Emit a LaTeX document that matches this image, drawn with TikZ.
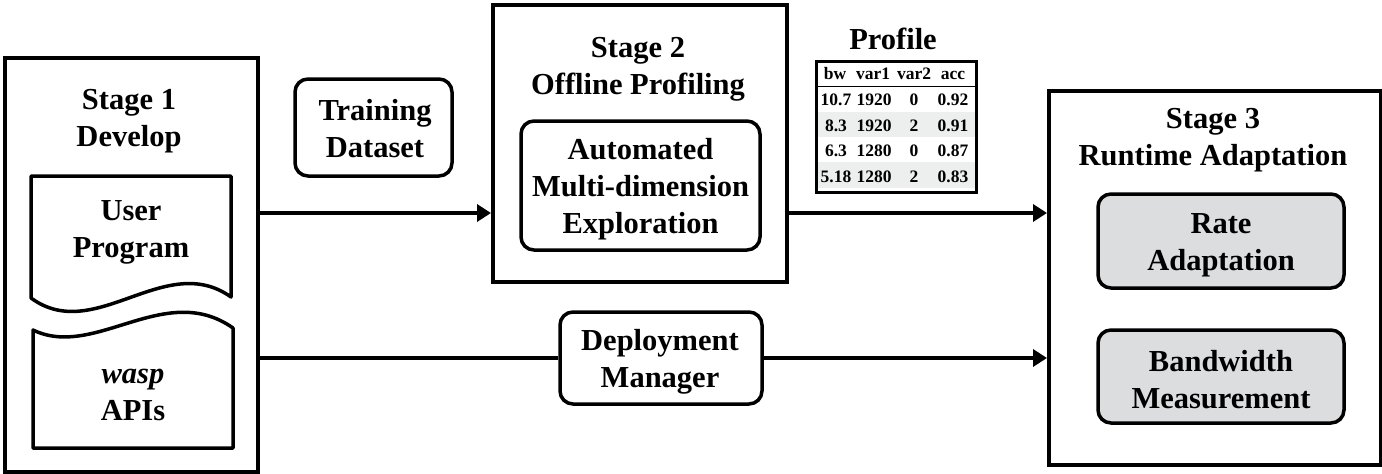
\documentclass[tikz,border=0pt]{standalone}
\usepackage{fontspec}
\setmainfont{Liberation Serif}
\usetikzlibrary{arrows.meta}
\definecolor{boxgray}{HTML}{DCDDDF}
\definecolor{rowgray}{HTML}{EDEFEF}
\begin{document}
\begin{tikzpicture}[x=1pt,y=-1pt,
  frame/.style={draw, line width=4pt, anchor=north west, inner sep=0pt},
  rbox/.style={draw, line width=3.5pt, rounded corners=13pt, inner sep=0pt},
  txt/.style={align=center, inner sep=0pt, font=\fontsize{30.5}{37}\selectfont\bfseries},
  cell/.style={inner sep=0pt, anchor=base, font=\fontsize{17.5}{19}\selectfont\bfseries},
  arr/.style={line width=4pt, -{Triangle[length=14pt,width=17pt]}},
  docline/.style={line width=3.5pt, line join=round}
]
\useasboundingbox (0,0) rectangle (1382,474);

% frames
\node[frame, minimum width=253pt, minimum height=414pt] (s1) at (3,56) {};
\node[frame, minimum width=294pt, minimum height=277pt] (s2) at (491,3) {};
\node[frame, minimum width=332pt, minimum height=374pt] (s3) at (1047,89) {};

% titles
\node[txt] (s1t) at (129,121) {Stage 1\\Develop};
\node[txt] (s2t) at (638,69) {Stage 2\\Offline Profiling};
\node[txt] (s3t) at (1213,140.5) {Stage 3\\Runtime Adaptation};

% stage 1 documents
\draw[docline] (31,298) -- (31,176) -- (231,176) -- (231,297)
  .. controls (165,250) and (95,345) .. (31,298) -- cycle;
\draw[docline] (33,330) .. controls (95,360) and (165,280) .. (233,328)
  -- (233,448) -- (33,448) -- cycle;
\node[txt] (up) at (131,232.5) {User\\Program};
\node[txt] (api) at (133,395) {\itshape wasp\\APIs};

% rounded boxes
\node[rbox, minimum width=157pt, minimum height=97pt] (td) at (373.5,127.5) {};
\node[txt] (tdt) at (375,129) {Training\\Dataset};
\node[rbox, minimum width=239pt, minimum height=129pt] (ame) at (640.5,185.5) {};
\node[txt] (amet) at (640.5,189) {Automated\\Multi-dimension\\Exploration};
\node[rbox, minimum width=202pt, minimum height=92pt] (dm) at (661,358) {};
\node[txt] (dmt) at (660,362) {Deployment\\Manager};
\node[rbox, fill=boxgray, minimum width=246pt, minimum height=94pt] (ra) at (1221,241) {};
\node[txt] (rat) at (1221,245) {Rate\\Adaptation};
\node[rbox, fill=boxgray, minimum width=246pt, minimum height=93pt] (bm) at (1221,376.5) {};
\node[txt] (bmt) at (1221,379.5) {Bandwidth\\Measurement};

% profile table
\node[txt] (pt) at (893,39) {Profile};
\fill[rowgray] (816,112) rectangle (975,137);
\fill[rowgray] (816,162) rectangle (975,188);
\node[draw, line width=3pt, minimum width=160pt, minimum height=131pt, inner sep=0pt, anchor=north west] (prof) at (815,60) {};
\draw[line width=1pt] (prof.west |- 0,86) -- (prof.east |- 0,86);
\node[cell] (h1) at (835,79.5) {bw};
\node[cell] (h2) at (873,79.5) {var1};
\node[cell] (h3) at (914,79.5) {var2};
\node[cell] (h4) at (953,79.5) {acc};
\node[cell] (a1) at (836,105.5) {10.7};
\node[cell] (a2) at (874,105.5) {1920};
\node[cell] (a3) at (914,105.5) {0};
\node[cell] (a4) at (953,105.5) {0.92};
\node[cell] (b1) at (836,131) {8.3};
\node[cell] (b2) at (874,131) {1920};
\node[cell] (b3) at (914,131) {2};
\node[cell] (b4) at (953,131) {0.91};
\node[cell] (c1) at (836,156.5) {6.3};
\node[cell] (c2) at (874,156.5) {1280};
\node[cell] (c3) at (914,156.5) {0};
\node[cell] (c4) at (953,156.5) {0.87};
\node[cell] (d1) at (836,182) {5.18};
\node[cell] (d2) at (874,182) {1280};
\node[cell] (d3) at (914,182) {2};
\node[cell] (d4) at (953,182) {0.83};

% connectors
\coordinate (ya) at (0,213);
\coordinate (yb) at (0,358);
\draw[arr] (s1.east |- ya) -- (s2.west |- ya);
\draw[arr] (s2.east |- ya) -- (s3.west |- ya);
\draw[line width=4pt] (s1.east |- yb) -- (dm.west);
\draw[arr] (dm.east) -- (s3.west |- yb);
\end{tikzpicture}
\end{document}
